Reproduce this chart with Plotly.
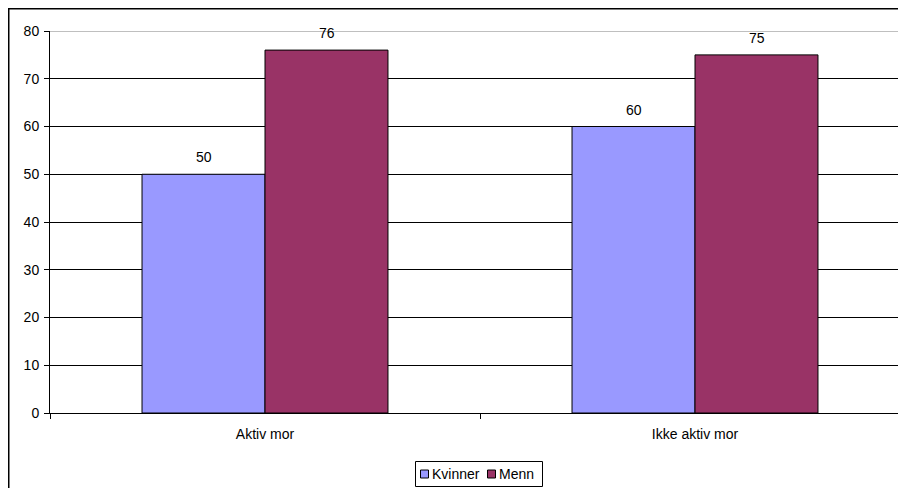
"""Grouped bar chart: Aktiv mor vs Ikke aktiv mor."""

import plotly.graph_objects as go

categories = ["Aktiv mor", "Ikke aktiv mor"]
kvinner = [50, 60]
menn = [76, 75]
series_names = ["Kvinner", "Menn"]
series_colors = ["#9999FF", "#993366"]

FONT = "Liberation Sans, Arial, sans-serif"

# page has an 8px body margin, so the figure is 8px smaller than the window
W, H = 898, 480
L, R, T, B = 42, 0, 23, 75
PW, PH = W - L - R, H - T - B


def px(x):
    """Page pixel x -> paper x."""
    return (x - 8 - L) / PW


def py(y):
    """Page pixel y -> paper y."""
    return (H - B - (y - 8)) / PH


fig = go.Figure()

for name, vals, color in zip(series_names, [kvinner, menn], series_colors):
    fig.add_trace(
        go.Bar(
            x=categories,
            y=vals,
            name=name,
            marker=dict(color=color, line=dict(color="black", width=1)),
            showlegend=False,
        )
    )

# value labels above bars
for i, vals in enumerate([kvinner, menn]):
    shift = -61.5 if i == 0 else 61.5
    for cat, v in zip(categories, vals):
        fig.add_annotation(
            x=cat,
            y=v,
            text=str(v),
            showarrow=False,
            xshift=shift,
            yshift=7,
            yanchor="bottom",
            font=dict(size=14, color="black"),
        )

# Outer chart border (right/bottom edges fall outside the window)
fig.add_shape(
    type="rect",
    xref="paper",
    yref="paper",
    x0=px(8.75),
    x1=1.2,
    y0=-0.4,
    y1=py(8.75),
    line=dict(color="black", width=1.5),
    fillcolor="rgba(0,0,0,0)",
    layer="above",
)
# Grey top border of plot area
fig.add_shape(
    type="line",
    xref="paper",
    yref="y",
    x0=0,
    x1=1,
    y0=80,
    y1=80,
    line=dict(color="#808080", width=1),
    layer="above",
)

# Hand-drawn legend box
fig.add_shape(
    type="rect",
    xref="paper",
    yref="paper",
    x0=px(415.5),
    x1=px(542.5),
    y0=py(486.5),
    y1=py(461.5),
    line=dict(color="black", width=1),
    fillcolor="white",
)
legend_x = [420.5, 487.5]
for lx, name, color in zip(legend_x, series_names, series_colors):
    fig.add_shape(
        type="rect",
        xref="paper",
        yref="paper",
        x0=px(lx),
        x1=px(lx + 8),
        y0=py(478),
        y1=py(470),
        line=dict(color="black", width=1),
        fillcolor=color,
    )
    fig.add_annotation(
        xref="paper",
        yref="paper",
        x=px(lx + 9),
        y=py(474),
        text=name,
        showarrow=False,
        xanchor="left",
        yanchor="middle",
        font=dict(size=14, color="black"),
    )

fig.update_layout(
    width=W,
    height=H,
    margin=dict(l=L, r=R, t=T, b=B),
    barmode="group",
    bargap=0.428,
    bargroupgap=0,
    plot_bgcolor="white",
    paper_bgcolor="white",
    font=dict(family=FONT, size=14, color="black"),
    showlegend=False,
    xaxis=dict(
        type="category",
        range=[-0.5, 1.4907],
        showline=True,
        linecolor="black",
        linewidth=1,
        ticks="outside",
        tickson="boundaries",
        ticklen=5,
        tickcolor="black",
        ticklabelstandoff=8,
        showgrid=False,
    ),
    yaxis=dict(
        range=[0, 80],
        dtick=10,
        showline=True,
        linecolor="black",
        linewidth=1,
        ticks="outside",
        ticklen=5,
        tickcolor="black",
        ticklabelstandoff=2,
        showgrid=True,
        gridcolor="black",
        gridwidth=1,
        zeroline=False,
    ),
)

fig.write_html("out.html")
